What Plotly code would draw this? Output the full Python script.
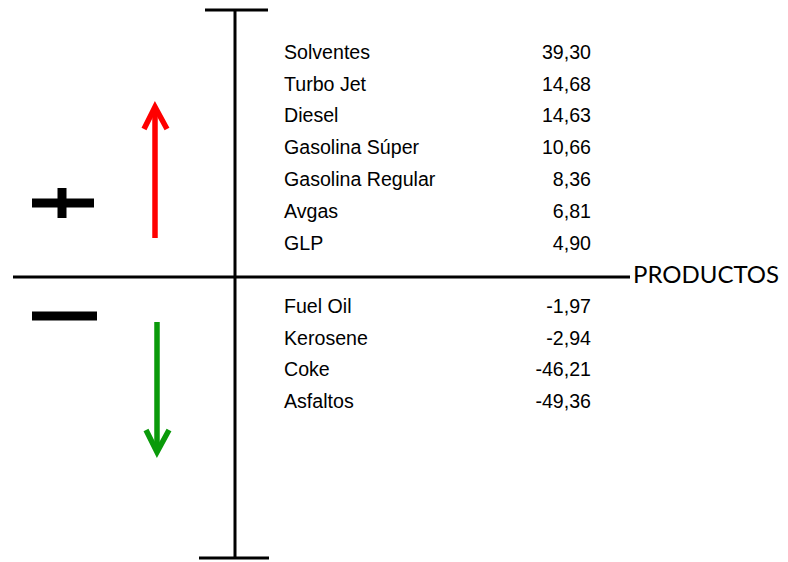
import plotly.graph_objects as go

# Data
pos_labels = ["Solventes", "Turbo Jet", "Diesel", "Gasolina Súper", "Gasolina Regular", "Avgas", "GLP"]
pos_values = [39.30, 14.68, 14.63, 10.66, 8.36, 6.81, 4.90]
neg_labels = ["Fuel Oil", "Kerosene", "Coke", "Asfaltos"]
neg_values = [-1.97, -2.94, -46.21, -49.36]
axis_title = "PRODUCTOS"

W, H = 788, 562
OFF = 8  # page body margin

def fmt(v):
    return f"{v:.2f}".replace(".", ",")

# layout parameters (pixel space)
label_x = 284
value_x = 591
pos_y0, neg_y0, row_h = 54, 308, 31.8

fig = go.Figure()

pos_y = [pos_y0 + i * row_h for i in range(len(pos_labels))]
neg_y = [neg_y0 + i * row_h for i in range(len(neg_labels))]

font = dict(family="Liberation Sans, Arial, sans-serif", size=19.6, color="#000000")

fig.add_trace(go.Scatter(x=[label_x] * len(pos_labels + neg_labels), y=pos_y + neg_y,
                         text=pos_labels + neg_labels, mode="text",
                         textposition="middle right", textfont=font, hoverinfo="skip"))
fig.add_trace(go.Scatter(x=[value_x] * len(pos_values + neg_values), y=pos_y + neg_y,
                         text=[fmt(v) for v in pos_values + neg_values], mode="text",
                         textposition="middle left", textfont=font, hoverinfo="skip"))

# axes structure
blk = dict(color="black", width=3)
fig.add_shape(type="line", x0=235, x1=235, y0=10, y1=558, line=blk)
fig.add_shape(type="line", x0=205, x1=268, y0=10, y1=10, line=blk)
fig.add_shape(type="line", x0=199, x1=269, y0=558, y1=558, line=blk)
fig.add_shape(type="line", x0=13, x1=630, y0=277, y1=277, line=blk)

fig.add_annotation(x=632, y=273, text=axis_title, showarrow=False, xanchor="left", yanchor="middle",
                   borderpad=0,
                   font=dict(family="Lato, Open Sans, sans-serif", size=24, color="black"))

# plus / minus signs
sign = dict(color="black", width=9)
fig.add_shape(type="line", x0=32, x1=94, y0=203, y1=203, line=sign)
fig.add_shape(type="line", x0=62, x1=62, y0=188, y1=218, line=sign)
fig.add_shape(type="line", x0=32, x1=97, y0=316, y1=316, line=sign)

# arrows
red = dict(color="#FF0000", width=5.5)
fig.add_shape(type="line", x0=155, x1=155, y0=238, y1=108, line=red)
fig.add_shape(type="path", path="M 144 129 L 155 107 L 167 129", line=red)
green = dict(color="#0A9A0A", width=5.5)
fig.add_shape(type="line", x0=157, x1=157, y0=322, y1=452, line=green)
fig.add_shape(type="path", path="M 146 430 L 157 452 L 169 430", line=green)

fig.update_layout(
    width=W - OFF, height=H - OFF, margin=dict(l=0, r=0, t=0, b=0),
    paper_bgcolor="white", plot_bgcolor="white", showlegend=False,
    xaxis=dict(range=[OFF, W], visible=False, fixedrange=True),
    yaxis=dict(range=[H, OFF], visible=False, fixedrange=True),
)

fig.write_html("out.html")
